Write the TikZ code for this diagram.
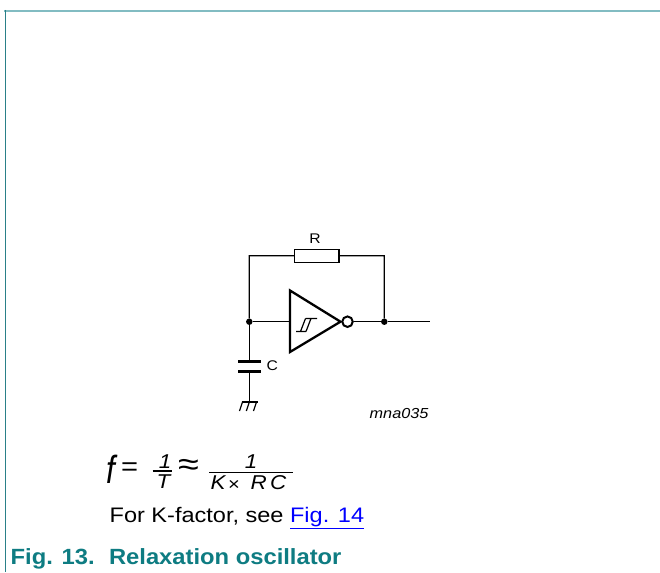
\documentclass[tikz,border=0pt]{standalone}
\usepackage{fontspec}
\setmainfont{Liberation Sans}[FakeStretch=1.12]
\newfontfamily\capfont{Liberation Sans}[FakeStretch=1.08]
\definecolor{teal1}{HTML}{0E7C82}
\definecolor{teallight}{HTML}{82BCC2}
\definecolor{tealframe}{HTML}{2A8088}
\definecolor{linkblue}{HTML}{0000FF}
\begin{document}
\begin{tikzpicture}[x=1pt,y=-1pt,
  wire/.style={line width=1.2pt,black},
  junc/.style={circle,fill=black,inner sep=0pt,minimum size=6.5pt},
  lbl/.style={font=\fontsize{14}{16}\selectfont,inner sep=0pt},
  mathbig/.style={font=\fontsize{26}{30}\selectfont,inner sep=0pt,anchor=base west},
  mathsmall/.style={font=\fontsize{20}{23}\selectfont\itshape,inner sep=0pt},
  bodytext/.style={font=\fontsize{21}{25}\selectfont,inner sep=0pt,anchor=base west},
  captiontext/.style={font=\capfont\fontsize{22}{26}\selectfont\bfseries,text=teal1,inner sep=0pt,anchor=base west}]
\useasboundingbox (0,0) rectangle (660,572);
\fill[white] (0,0) rectangle (660,572);
% frame
\draw[teallight,line width=2pt] (4,11) -- (660,11);
\draw[tealframe,line width=1.2pt] (5.5,10) -- (5.5,572);

% circuit nodes
\node[junc] (nL) at (249.3,321.7) {};
\node[junc] (nR) at (384.3,321.7) {};
\coordinate (tl) at (249.3,255.7);
\coordinate (tr) at (384.3,255.7);
\coordinate (out) at (429.5,321.7);
\coordinate (inA) at (290,321.7);
\coordinate (cap1) at (249.3,361);
\coordinate (cap2) at (249.3,371);
\coordinate (gnd) at (249.3,402);
\node[draw,line width=1.2pt,rectangle,minimum width=44.7pt,minimum height=13pt,inner sep=0pt] (res) at (316.7,255.8) {};
\node[draw,line width=2pt,circle,minimum size=10.5pt,inner sep=0pt] (bub) at (347.5,321.7) {};

% inverter
\draw[line width=2.3pt,line join=miter] (290,290.5) -- (340.5,321.7) -- (290,352) -- cycle;
% hysteresis symbol
\draw[line width=1.2pt] (296,331.5) -- (306,331.5)
  (300.5,331.5) -- (305.5,318.5)
  (306,331.5) -- (311,318.5)
  (305.5,318.5) -- (317,318.5);

% wires
\draw[wire] (nL) -- (tl) -- (res.west);
\draw[wire] (res.east) -- (tr) -- (nR);
\draw[wire] (nL) -- (inA);
\draw[wire] (bub) -- (nR) -- (out);
\draw[wire] (nL) -- (cap1);
\draw[wire] (cap2) -- (gnd);
% capacitor plates
\draw[line width=3pt] (238.3,361) -- (260.7,361);
\draw[line width=3pt] (238.3,371) -- (260.7,371);
% ground
\draw[wire] (241.5,402) -- (257.5,402);
\draw[wire] (242.5,402) -- (239.5,411) (249.3,402) -- (246.3,411) (256.5,402) -- (253.5,411);

% labels
\node[lbl,anchor=base] (lR) at (315,243) {R};
\node[lbl,anchor=base west] (lC) at (266.3,370.5) {C};
\node[lbl,anchor=base west,font=\fontsize{14.5}{16}\selectfont\itshape] (lid) at (369.5,418) {mna035};

% formula
\node[inner sep=0pt,anchor=base west,font=\fontsize{28}{30}\selectfont\itshape] (ff) at (106,483.3) {\scalebox{1}[1.4]{f}};
\node[mathbig] (eq) at (121,475) {=};
\node[mathsmall,anchor=base] (n1) at (165,468) {1};
\node[mathsmall,anchor=base] (d1) at (163.5,488.5) {T};
\draw[line width=1.5pt] (152.7,471) -- (171.7,471);
\node[mathbig] (apx) at (178,475.5) {\scalebox{1.3}[1.25]{≈}};
\node[mathsmall,anchor=base] (n2) at (251,468) {1};
\draw[line width=1.5pt] (209.3,472.7) -- (292.7,472.7);
\node[mathsmall,anchor=base west] (dK) at (210.5,489.5) {K};
\node[mathsmall,anchor=base west,font=\fontsize{18}{20}\selectfont] (dx) at (228,490.8) {×};
\node[mathsmall,anchor=base west] (dR) at (250.5,489.5) {R};
\node[mathsmall,anchor=base west] (dC) at (270,489.5) {C};

% text
\node[bodytext] (note) at (109.5,522.7) {For K-factor, see \textcolor{linkblue}{\underline{Fig. 14}}};
\node[captiontext] (cap) at (10.5,564) {Fig. 13.\hspace{14.3pt}Relaxation oscillator};
\end{tikzpicture}
\end{document}
